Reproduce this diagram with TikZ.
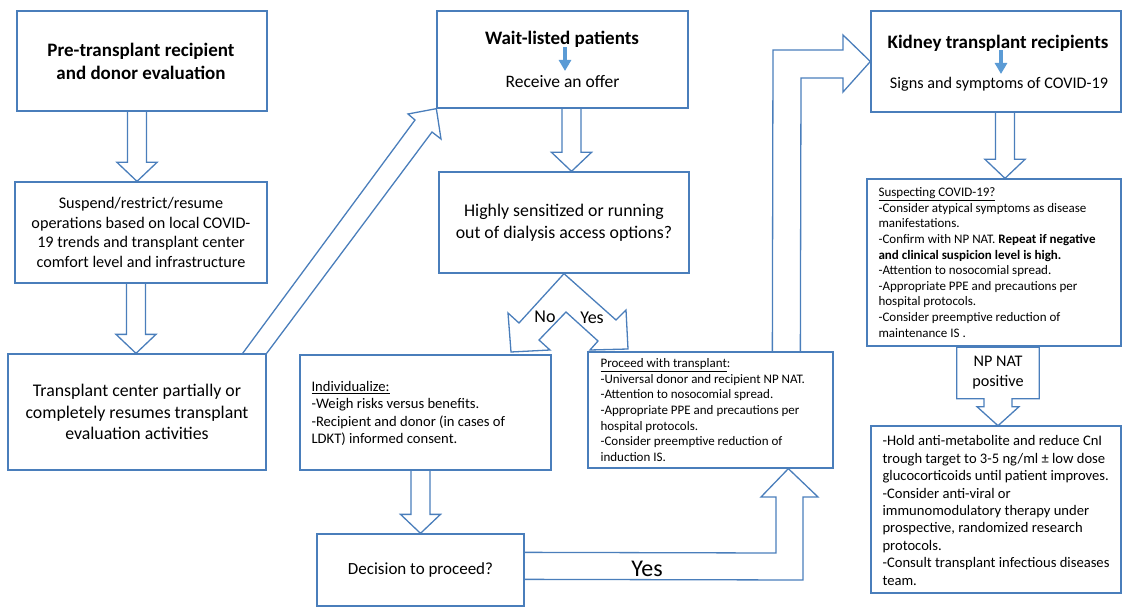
\documentclass[tikz,border=0pt]{standalone}
\usepackage{fontspec}
\setmainfont{Carlito}
\usetikzlibrary{calc,arrows.meta}
\definecolor{lc}{HTML}{4A7EBB}
\definecolor{ab}{HTML}{5B9BD5}
\newcommand\fsz[2]{\fontsize{#1pt}{#2pt}\selectfont}
\newcommand\blkdown[3]{%
  \draw[blk] let \p1=(#1), \p2=(#2) in
  (#3pt-9.5pt,\y1) -- (#3pt-9.5pt,\y2+19pt) -- (#3pt-20pt,\y2+19pt) -- (#3pt,\y2)
  -- (#3pt+20pt,\y2+19pt) -- (#3pt+9.5pt,\y2+19pt) -- (#3pt+9.5pt,\y1);}
\begin{document}
\begin{tikzpicture}[x=1pt,y=-1pt,
  box/.style={draw=lc,line width=1.3pt,rectangle,inner sep=0pt},
  blk/.style={draw=lc,line width=1.3pt,line join=miter},
  barr/.style={draw=ab,line width=4.5pt,-{Triangle[width=12pt,length=11pt]}},
  ltext/.style={anchor=west,align=left,inner sep=0pt}]
\useasboundingbox (0,0) rectangle (1122,607);

% left column
\node[box,minimum width=250pt,minimum height=100pt] (A) at (142,61) {};
\node[font=\fsz{19}{23}\bfseries,align=center] (At) at (141,61) {Pre-transplant recipient\\and donor evaluation};
\node[box,minimum width=252pt,minimum height=101pt,align=center,font=\fsz{16.2}{19.6}] (B) at (141,232.5)
  {Suspend/restrict/resume\\operations based on local COVID-\\19 trends and transplant center\\comfort level and infrastructure};
\node[box,minimum width=258pt,minimum height=116pt,align=center,font=\fsz{17.8}{21.6}] (C) at (137,412)
  {Transplant center partially or\\completely resumes transplant\\evaluation activities};

% middle column
\node[box,minimum width=251pt,minimum height=97pt] (D) at (562.5,59.5) {};
\node[font=\fsz{19}{23}\bfseries] (Dt) at (562,39) {Wait-listed patients};
\node[font=\fsz{17.5}{21}] (Ds) at (562.5,82) {Receive an offer};
\coordinate (d1) at (565,47);
\coordinate (d2) at (565,71);
\draw[barr] (d1) -- (d2);

\node[box,minimum width=250pt,minimum height=101pt,align=center,font=\fsz{17.8}{22}] (E) at (564,222.5)
  {Highly sensitized or running\\out of dialysis access options?};

\node[box,minimum width=251pt,minimum height=115pt] (F) at (425.5,412.5) {};
\node[ltext,font=\fsz{14.6}{17.5}] (Ft) at ($(F.west)+(12,1)$)
  {\underline{Individualize:}\\-Weigh risks versus benefits.\\-Recipient and donor (in cases of\\LDKT) informed consent.};

\node[box,minimum width=207pt,minimum height=72pt,font=\fsz{17}{20}] (G) at (420.5,570) {Decision to proceed?};

\node[box,minimum width=245pt,minimum height=116pt] (H) at (710.5,410) {};
\node[ltext,font=\fsz{13}{15.7}] (Ht) at ($(H.west)+(13,0)$)
  {\underline{Proceed with transplant}:\\-Universal donor and recipient NP NAT.\\-Attention to nosocomial spread.\\-Appropriate PPE and precautions per\\hospital protocols.\\-Consider preemptive reduction of\\induction IS.};

% right column
\node[box,minimum width=250pt,minimum height=101pt] (I) at (996,61.5) {};
\node[font=\fsz{19}{23}\bfseries] (It) at (998,43) {Kidney transplant recipients};
\node[font=\fsz{16.2}{20}] (Is) at (999,84) {Signs and symptoms of COVID-19};
\coordinate (i1) at (1001,50);
\coordinate (i2) at (1001,74);
\draw[barr] (i1) -- (i2);

\node[box,minimum width=254pt,minimum height=167pt] (J) at (994,262.5) {};
\node[ltext,font=\fsz{13}{15.6}] (Jt) at ($(J.west)+(12,0)$)
  {\underline{Suspecting COVID-19?}\\-Consider atypical symptoms as disease\\manifestations.\\-Confirm with NP NAT. \textbf{Repeat if negative}\\\textbf{and clinical suspicion level is high.}\\-Attention to nosocomial spread.\\-Appropriate PPE and precautions per\\hospital protocols.\\-Consider preemptive reduction of\\maintenance IS .};

\node[minimum width=82pt,minimum height=51pt,inner sep=0pt,align=center,font=\fsz{16.2}{20}] (N) at (998,373) {NP NAT\\positive};
\draw[blk] (N.north west) -- (N.north east) -- (N.south east) -- ($(N.south)+(14,0)$) -- ($(N.south)+(14,8)$)
  -- ($(N.south)+(21,8)$) -- ($(N.south)+(0,27)$) -- ($(N.south)+(-21,8)$) -- ($(N.south)+(-14,8)$)
  -- ($(N.south)+(-14,0)$) -- (N.south west) -- cycle;

\node[box,minimum width=250pt,minimum height=167pt] (K) at (996,509.5) {};
\node[ltext,font=\fsz{14.6}{17.4}] (Kt) at ($(K.west)+(12,1)$)
  {-Hold anti-metabolite and reduce CnI\\trough target to 3-5 ng/ml ± low dose\\glucocorticoids until patient improves.\\-Consider anti-viral or\\immunomodulatory therapy under\\prospective, randomized research\\protocols.\\-Consult transplant infectious diseases\\team.};

% block arrows
\blkdown{A.south}{B.north}{137}
\blkdown{B.south}{C.north}{136}
\blkdown{D.south}{E.north}{571.5}
\blkdown{F.south}{G.north}{420.5}
\blkdown{I.south}{J.north}{1005}

% diagonal arrow C -> D
\draw[blk] ($(C.north east)+(-24,0)$) -- (415,120) -- (408,114) -- (D.south west) -- (441,139) -- (432,132) -- (C.north east);

% split arrow No / Yes
\draw[blk] (E.south) -- (519,323) -- (508,313) -- (511,352) -- (550,350) -- (539,340) -- (566,312)
  -- (598,341) -- (590,350) -- (628,349) -- (626,310) -- (616,320) -- cycle;
\node[font=\fsz{18}{20}] (no) at (545,317) {No};
\node[font=\fsz{18}{20}] (yes1) at (592,318) {Yes};

% Yes arrow G -> H
\draw[blk] ($(G.north east)+(0,19)$) -- (776,553) -- (776,497) -- (761,497) -- ($(H.south west)+(201,0)$)
  -- (818,497) -- (803,497) -- (803,580) -- ($(G.north east)+(0,46)$);
\node[font=\fsz{24}{28}] (yes2) at (647,569) {Yes};

% bent arrow H -> I
\draw[blk] ($(H.north west)+(185,0)$) -- (773,50) -- (843,50) -- (843,35) -- (I.west)
  -- (843,92) -- (843,78) -- (801,78) -- ($(H.north west)+(213,0)$);
\end{tikzpicture}
\end{document}
